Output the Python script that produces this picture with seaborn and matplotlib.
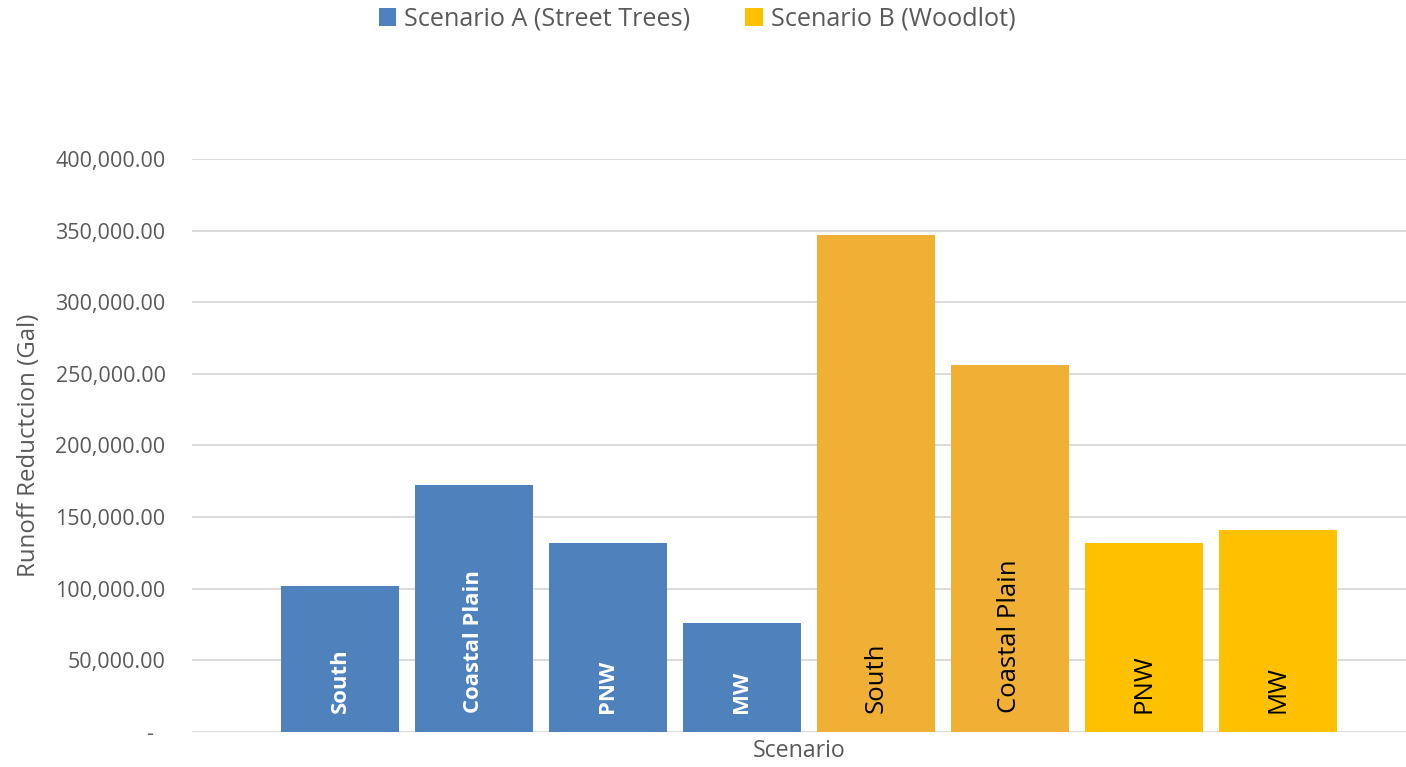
import matplotlib
matplotlib.use("Agg")
import matplotlib.pyplot as plt
from matplotlib.patches import Patch
from matplotlib.ticker import FuncFormatter
import seaborn as sns
import pandas as pd

# ---- data ----
regions = ["South", "Coastal Plain", "PNW", "MW", "South", "Coastal Plain", "PNW", "MW"]
scenarios = ["Scenario A (Street Trees)"] * 4 + ["Scenario B (Woodlot)"] * 4
values = [102000, 172400, 131900, 76100, 347000, 256200, 132000, 141000]
y_ticks = [0, 50000, 100000, 150000, 200000, 250000, 300000, 350000, 400000]
legend_labels = ["Scenario A (Street Trees)", "Scenario B (Woodlot)"]

BLUE = "#4F81BD"
ORANGE = "#F0B036"
YELLOW = "#FFC000"
bar_colors = [BLUE] * 4 + [ORANGE, ORANGE, YELLOW, YELLOW]
TEXT = "#595959"

df = pd.DataFrame({
    "bar": [f"{s}|{r}|{i}" for i, (s, r) in enumerate(zip(scenarios, regions))],
    "region": regions,
    "scenario": scenarios,
    "value": values,
})

sns.set_theme(style="white")
plt.rcParams["font.family"] = ["Open Sans", "DejaVu Sans"]

fig = plt.figure(figsize=(14.06, 7.67), dpi=100)
ax = fig.add_axes([192 / 1406, 35 / 767, 1214 / 1406, 573 / 767])

sns.barplot(data=df, x="bar", y="value", hue="bar", palette=bar_colors,
            width=0.88, legend=False, ax=ax, saturation=1, linewidth=0)

ax.set_xlim(-1.104, 7.955)
ax.set_ylim(0, 400000)
ax.set_yticks(y_ticks)
ax.yaxis.set_major_formatter(FuncFormatter(lambda v, p: "-  " if v == 0 else f"{v:,.2f}"))
ax.tick_params(axis="y", length=0, pad=19, labelsize=15.5, labelcolor=TEXT)
ax.set_xticks([])
ax.grid(axis="y", color="#D9D9D9", linewidth=1.3)
ax.set_axisbelow(True)
for s in ax.spines.values():
    s.set_visible(False)

ax.set_xlabel("Scenario", fontsize=16.7, color=TEXT, labelpad=5)
ax.set_ylabel("Runoff Reductcion (Gal)", fontsize=17.3, color=TEXT, labelpad=10)

# labels inside bars
for i, (r, sc) in enumerate(zip(regions, scenarios)):
    is_a = sc == legend_labels[0]
    ax.annotate(r, xy=(i, 0), xytext=(0, 14), textcoords="offset points",
                rotation=90, ha="center", va="bottom",
                fontsize=15.9 if is_a else 18.5, color="white" if is_a else "black",
                fontweight="bold" if is_a else "normal")

handles = [Patch(facecolor=BLUE, edgecolor="none"), Patch(facecolor=YELLOW, edgecolor="none")]
fig.legend(handles, legend_labels, loc="center", bbox_to_anchor=(697 / 1406, 1 - 19 / 767),
           ncol=2, frameon=False, fontsize=18.1, labelcolor=TEXT,
           handlelength=0.7, handleheight=0.7, handletextpad=0.3, columnspacing=2.2)

fig.savefig("out.png", dpi=100)
